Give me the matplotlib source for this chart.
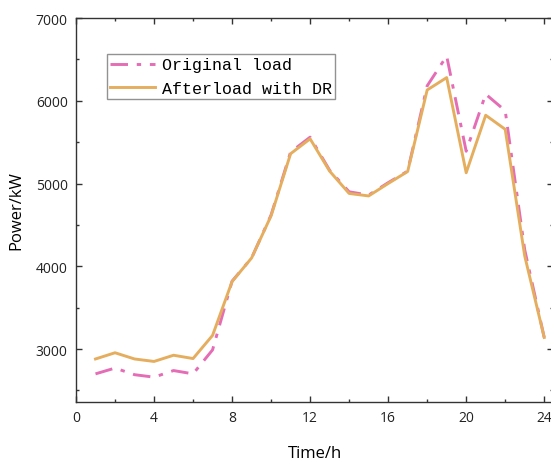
import numpy as np
import matplotlib
matplotlib.use("Agg")
import matplotlib.pyplot as plt
from matplotlib.ticker import MultipleLocator

hours = list(range(1, 25))
original_load = [2700, 2770, 2690, 2660, 2740, 2700, 2990, 3820, 4100, 4620,
                 5380, 5560, 5160, 4900, 4860, 5010, 5150, 6180, 6540, 5390,
                 6080, 5880, 4200, 3140]
after_dr = [2880, 2955, 2880, 2850, 2925, 2885, 3165, 3815, 4100, 4610,
            5360, 5540, 5150, 4880, 4850, 5000, 5145, 6130, 6280, 5130,
            5825, 5655, 4125, 3140]

pink = '#E46DB5'
gold = '#E5AE5F'

plt.rcParams['font.family'] = ['Open Sans', 'DejaVu Sans']

fig = plt.figure(figsize=(5.51, 4.64), dpi=100)
ax = fig.add_axes([76 / 551, 1 - 403 / 464, 477 / 551, 384 / 464])

ax.plot(hours, original_load, color=pink, lw=2.1, dashes=(6, 3, 1.5, 3),
        label='Original load')
ax.plot(hours, after_dr, color=gold, lw=2.1, label='Afterload with DR')

ax.set_xlim(0, 24.45)
ax.set_ylim(2360, 7000)
ax.xaxis.set_major_locator(MultipleLocator(4))
ax.xaxis.set_minor_locator(MultipleLocator(2))
ax.yaxis.set_major_locator(MultipleLocator(1000))
ax.yaxis.set_minor_locator(MultipleLocator(500))
ax.tick_params(which='both', direction='in', top=True, right=True,
               color='#333333', labelcolor='#222222', labelsize=10, pad=6)
ax.tick_params(which='major', length=4, width=1)
ax.tick_params(which='minor', length=2.5, width=1)
for s in ax.spines.values():
    s.set_color('#333333')
    s.set_linewidth(1)

ax.set_xlabel('Time/h', fontsize=12, labelpad=14)
ax.set_ylabel('Power/kW', fontsize=12, labelpad=8)

leg = ax.legend(loc='upper left', bbox_to_anchor=(0.065, 0.906),
                prop={'family': 'Liberation Mono', 'size': 12},
                frameon=True, fancybox=False, edgecolor='#777777',
                handlelength=2.7, handletextpad=0.4, borderpad=0.2,
                labelspacing=0.5, borderaxespad=0)
leg.get_frame().set_linewidth(1)

fig.savefig('out.png', dpi=100)
